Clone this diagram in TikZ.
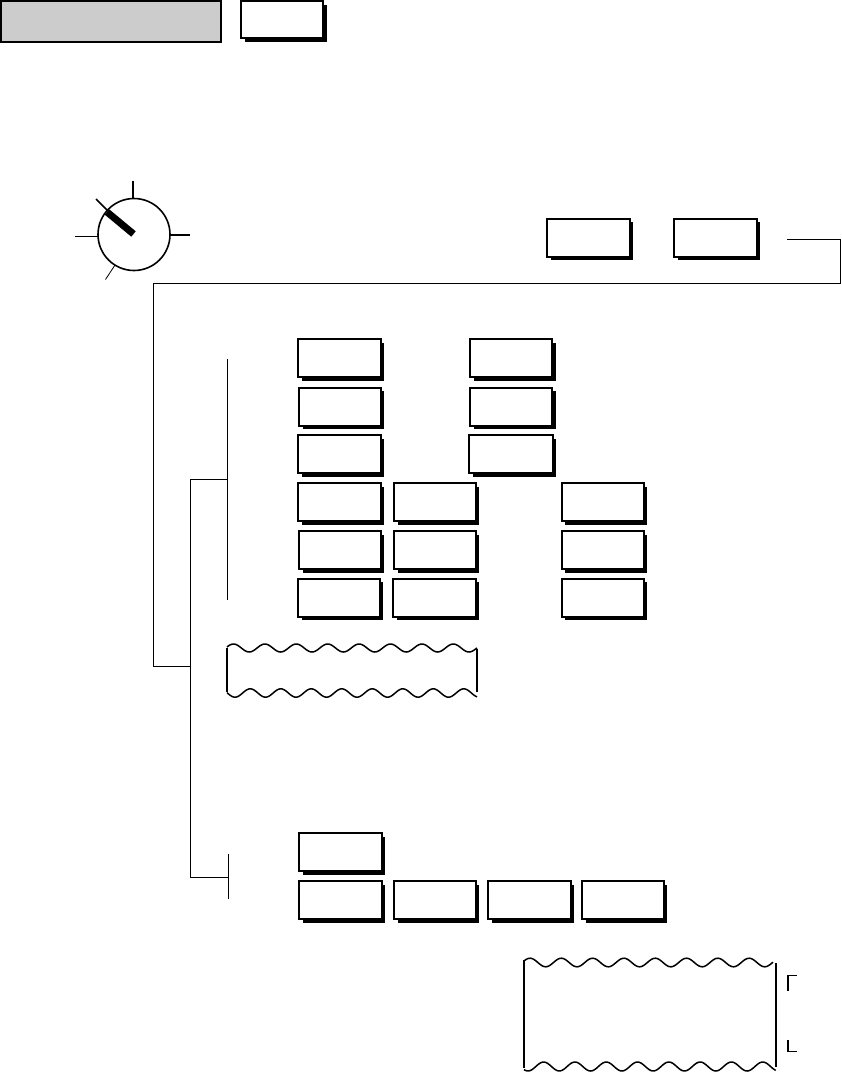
\documentclass[tikz,border=0pt]{standalone}
\usetikzlibrary{shadows}
\tikzset{
  btn/.style={draw=black,fill=white,line width=2pt,anchor=north west,inner sep=0pt,outer sep=0pt,
    minimum width=82.5pt,minimum height=38pt,
    general shadow={shadow xshift=3.6pt,shadow yshift=-3.6pt,fill=black}},
  title/.style={draw=black,fill=black!20,line width=2pt,anchor=north west,inner sep=0pt,outer sep=0pt,
    minimum width=220pt,minimum height=40.5pt},
  conn/.style={draw=black,line width=1pt},
  tick/.style={draw=black,line width=1.6pt},
  wave/.style={draw=black,line width=1.5pt,line join=round}
}
\begin{document}
\begin{tikzpicture}[x=1pt,y=-1pt]
\useasboundingbox (0,0) rectangle (841,1073);
% header
\node[title] (head) at (1.2,1.2) {};
\node[btn,minimum width=82pt,minimum height=37.5pt] (hbtn) at (241,1) {};
% dial
\coordinate (dc) at (134,234.5);
\node[draw=black,line width=1.6pt,circle,minimum size=72pt,inner sep=0pt,outer sep=0pt] (dial) at (dc) {};
\coordinate (t1) at (133,181);
\coordinate (t1b) at (133,199);
\coordinate (t2) at (75,236.5);
\coordinate (t2b) at (98,236.5);
\coordinate (t3) at (170,235);
\coordinate (t3b) at (190,235);
\coordinate (t4) at (115,265);
\coordinate (t4b) at (105.5,279.5);
\coordinate (t5) at (96,199);
\coordinate (t5b) at (108,211);
\coordinate (t6) at (107,212);
\coordinate (t6b) at (133.5,234);
\draw[tick] (t1) -- (t1b);
\draw[tick] (t2) -- (t2b);
\draw[tick] (t3) -- (t3b);
\draw[conn,line width=.8pt] (t4) -- (t4b);
\draw[tick] (t5) -- (t5b);
\draw[draw=black,line width=7pt] (t6) -- (t6b);
% top buttons
\node[btn] (p1) at (547.2,218.7) {};
\node[btn] (p2) at (674.3,218.7) {};
% rows
\node[btn] (a1) at (298,339) {};
\node[btn,minimum width=81.5pt] (a2) at (299.2,387.5) {};
\node[btn] (a3) at (298,435) {};
\node[btn] (a4) at (298,483) {};
\node[btn,minimum width=81.5pt] (a5) at (299.2,531) {};
\node[btn,minimum width=81.5pt] (a6) at (298,578.7) {};
\node[btn,minimum width=82pt] (b1) at (470,339) {};
\node[btn,minimum width=82pt] (b2) at (470,387.5) {};
\node[btn,minimum width=83.5pt] (b3) at (469,435) {};
\node[btn,minimum width=81.5pt] (c4) at (394,483) {};
\node[btn,minimum width=81.5pt] (c5) at (394,531) {};
\node[btn,minimum width=82.5pt] (c6) at (393,578.7) {};
\node[btn,minimum width=82pt] (d4) at (561.5,483) {};
\node[btn,minimum width=82pt] (d5) at (561.5,531) {};
\node[btn,minimum width=82pt] (d6) at (561.5,578.7) {};
% bottom buttons
\node[btn] (e1) at (299.3,833) {};
\node[btn] (f1) at (299.3,881) {};
\node[btn,minimum width=81.5pt] (f2) at (394.3,881) {};
\node[btn] (f3) at (488,881) {};
\node[btn,minimum width=81.5pt] (f4) at (582,881) {};
% connectors
\coordinate (l0) at (787,239.5);
\coordinate (l1) at (840.5,239.5);
\coordinate (l2) at (840.5,283.5);
\coordinate (l3) at (153.5,283.5);
\coordinate (l4) at (153.5,666.5);
\coordinate (l5) at (190.5,666.5);
\coordinate (m0) at (227,479.5);
\coordinate (m1) at (190.5,479.5);
\coordinate (m2) at (190.5,877.5);
\coordinate (m3) at (228,877.5);
\coordinate (n1) at (227.5,359);
\coordinate (n2) at (227.5,600);
\coordinate (o1) at (228.5,854);
\coordinate (o2) at (228.5,899);
\draw[conn] (l0) -- (l1) -- (l2) -- (l3) -- (l4) -- (l5);
\draw[conn] (m0) -- (m1) -- (m2) -- (m3);
\draw[conn] (n1) -- (n2);
\draw[conn] (o1) -- (o2);
% wavy box 1
\draw[wave] plot[domain=227:477,samples=160,smooth] (\x,{648-4*cos(11.465*(\x-233.5))});
\draw[wave] plot[domain=227:477,samples=160,smooth] (\x,{693+4.2*cos(11.803*(\x-235))});
\draw[draw=black,line width=2pt] (477,649) -- (477,692);
\draw[draw=black,line width=2pt] (227,648) -- (227,692);
% wavy box 2
\draw[wave] plot[domain=524:773,samples=160,smooth] (\x,{962.5-4.3*cos(11.502*(\x-530))});
\draw[wave] plot[domain=524:775.7,samples=160,smooth] (\x,{1066.5+4.5*cos(11.502*(\x-528))});
\draw[draw=black,line width=2pt] (775.7,963) -- (775.7,1067);
\draw[draw=black,line width=2pt] (524,960) -- (524,1068);
% brackets
\coordinate (g1) at (788,991);
\coordinate (g2) at (788,975.5);
\coordinate (g3) at (797,975.5);
\coordinate (h1) at (788,1040);
\coordinate (h2) at (788,1051.5);
\coordinate (h3) at (797,1051.5);
\draw[tick] (g1) -- (g2) -- (g3);
\draw[tick] (h1) -- (h2) -- (h3);
\end{tikzpicture}
\end{document}
